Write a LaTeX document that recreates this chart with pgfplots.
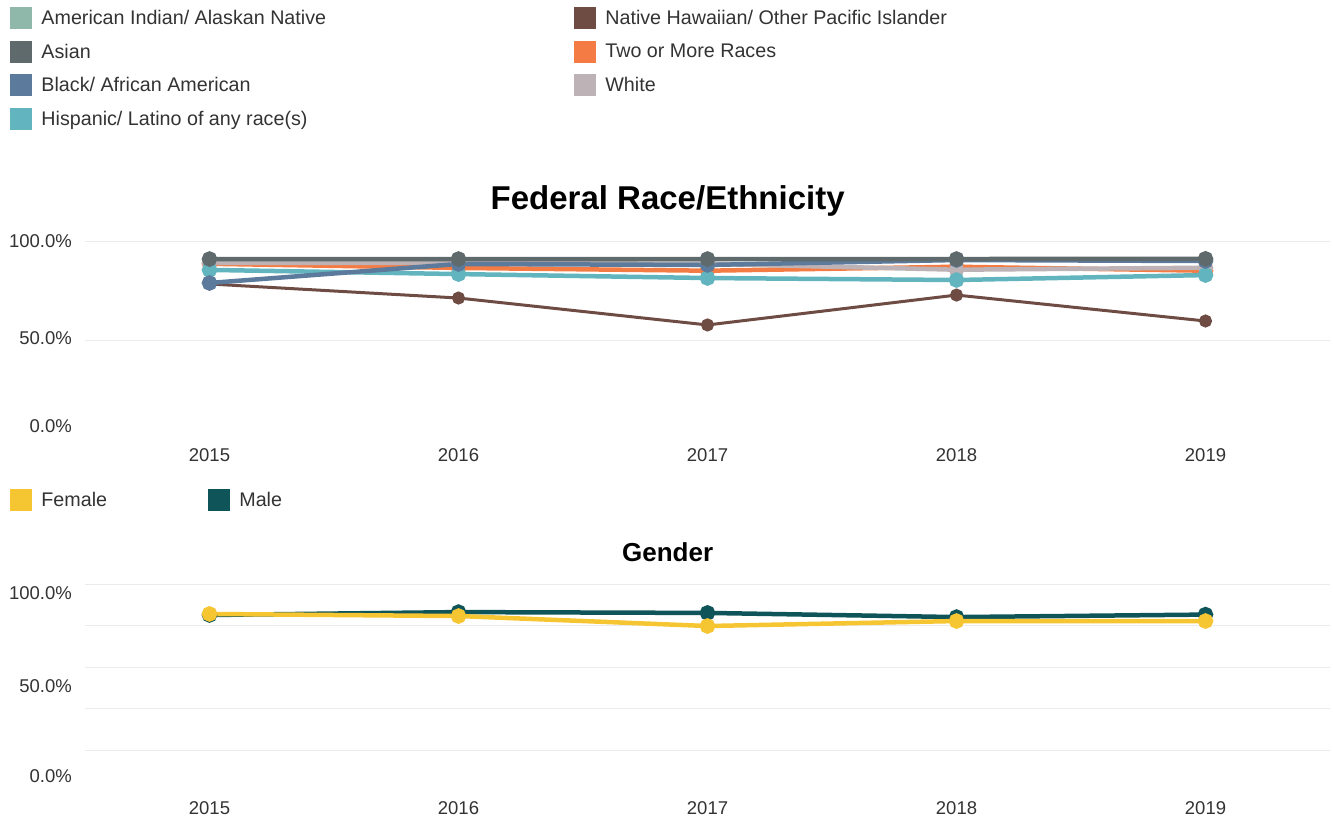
\documentclass[border=0pt]{standalone}
\usepackage{fontspec}
\setmainfont{Liberation Sans}
\usepackage{pgfplots}
\pgfplotsset{compat=1.18}

\definecolor{aian}{HTML}{8FB8AA}
\definecolor{asian}{HTML}{5F6A6C}
\definecolor{blk}{HTML}{5C7A9B}
\definecolor{hisp}{HTML}{62B4BF}
\definecolor{nhpi}{HTML}{6E4C43}
\definecolor{twomore}{HTML}{F47C44}
\definecolor{wht}{HTML}{BDB2B6}
\definecolor{female}{HTML}{F6C532}
\definecolor{male}{HTML}{0F5458}
\definecolor{gridc}{HTML}{EBEBEB}
\definecolor{txt}{HTML}{333333}

% shift a tick label up or down without changing its box
\newcommand{\rl}[2]{\raisebox{#1}[\height][\depth]{#2}}

\pgfplotsset{
  ser/.style={color=#1, line width=4.5pt, mark=*, mark size=5.5pt,
    mark options={solid, fill=#1}, forget plot},
  chartbase/.style={
    scale only axis, width=1245pt,
    xmin=2014.5, xmax=2019.5, ymin=0, ymax=100,
    xtick={2015,2016,2017,2018,2019},
    xticklabels={2015,2016,2017,2018,2019},
    axis line style={draw=none}, tick style={draw=none},
    tick label style={font=\fontsize{18.5}{20}\selectfont, text=txt},
    yticklabel style={anchor=east, inner sep=0pt, xshift=-13pt},
    xticklabel style={anchor=north, inner sep=0pt, yshift=-9pt},
    ytick={0,50,100},
    extra y tick labels={},
    extra y tick style={grid=major},
    major grid style={gridc, line width=1pt},
    legend style={draw=none, fill=none, inner sep=0pt, anchor=north west,
      font=\fontsize{19.7}{21}\selectfont, text=txt,
      cells={anchor=west}, row sep=11.5pt},
    legend image code/.code={\fill[##1,draw=none] (0pt,-11pt) rectangle (22pt,11pt);
      \path (29pt,0pt);},
  }
}

\begin{document}
\begin{tikzpicture}
\begin{axis}[chartbase, at={(85pt,-439pt)}, anchor=south west, height=198pt,
  yticklabels={\rl{13pt}{0.0\%},\rl{2pt}{50.0\%},100.0\%},
  extra y ticks={50,100},
  title={Federal Race/Ethnicity},
  title style={font=\fontsize{33}{36}\selectfont\bfseries, at={(0.468,1)},
    anchor=center, yshift=34pt},
  legend columns=2,
  legend style={at={(-0.0602,2.182)},
    /tikz/every even column/.append style={column sep=246pt}},
]
\addlegendimage{fill=aian}\addlegendentry{American Indian/ Alaskan Native}
\addlegendimage{fill=nhpi}\addlegendentry{Native Hawaiian/ Other Pacific Islander}
\addlegendimage{fill=asian}\addlegendentry{Asian}
\addlegendimage{fill=twomore}\addlegendentry{Two or More Races}
\addlegendimage{fill=blk}\addlegendentry{Black/ African American}
\addlegendimage{fill=wht}\addlegendentry{White}
\addlegendimage{fill=hisp}\addlegendentry{Hispanic/ Latino of any race(s)}

% Native Hawaiian/ Other Pacific Islander
\addplot[ser=nhpi, line width=3pt, mark size=5pt] coordinates {
  (2015,78.3) (2016,71.2) (2017,57.6) (2018,72.7) (2019,59.6)};
% Two or More Races
\addplot[ser=twomore] coordinates {
  (2015,88.5) (2016,86.4) (2017,85.0) (2018,87.0) (2019,85.0)};
% White
\addplot[ser=wht] coordinates {
  (2015,88.9) (2016,89.0) (2017,88.5) (2018,85.5) (2019,86.5)};
% Hispanic/ Latino
\addplot[ser=hisp] coordinates {
  (2015,85.4) (2016,83.3) (2017,81.3) (2018,80.3) (2019,82.8)};
% Black/ African American
\addplot[ser=blk] coordinates {
  (2015,78.8) (2016,88.4) (2017,87.9) (2018,90.4) (2019,89.9)};
% Asian
\addplot[ser=asian] coordinates {
  (2015,90.9) (2016,90.9) (2017,90.9) (2018,90.9) (2019,91.0)};
\end{axis}

\begin{axis}[chartbase, at={(85pt,-792pt)}, anchor=south west, height=208pt,
  yticklabels={\rl{16pt}{0.0\%},\rl{2pt}{50.0\%},\rl{-9pt}{100.0\%}},
  extra y ticks={20,40,60,80,100},
  title={Gender},
  title style={font=\fontsize{26}{28}\selectfont\bfseries, at={(0.468,1)},
    anchor=center, yshift=26pt},
  legend columns=2,
  legend style={at={(-0.0602,1.457)},
    /tikz/every even column/.append style={column sep=99pt}},
]
\addlegendimage{fill=female}\addlegendentry{Female}
\addlegendimage{fill=male}\addlegendentry{Male}

% Male
\addplot[ser=male] coordinates {
  (2015,85.1) (2016,86.5) (2017,86.1) (2018,84.1) (2019,85.3)};
% Female
\addplot[ser=female] coordinates {
  (2015,85.6) (2016,84.6) (2017,79.8) (2018,82.2) (2019,82.2)};
\end{axis}

\pgfresetboundingbox
\path[use as bounding box] (0pt,0pt) rectangle (1333pt,-820pt);
\end{tikzpicture}
\end{document}
